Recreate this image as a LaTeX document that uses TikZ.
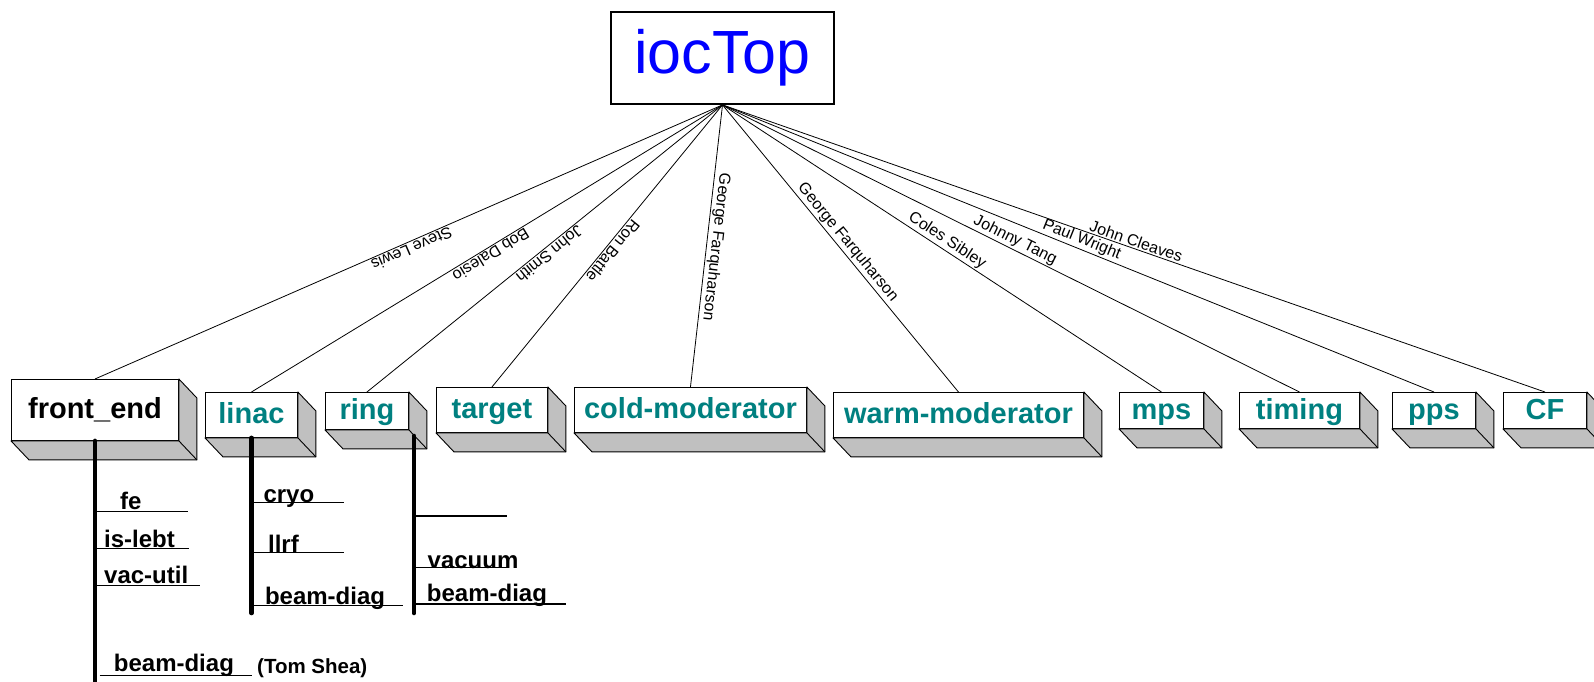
\documentclass[tikz,border=0pt]{standalone}
\usepackage{fontspec}
\setmainfont{Liberation Sans}

\definecolor{subteal}{RGB}{0,128,128}
\definecolor{crategray}{RGB}{192,192,192}

\tikzset{
  crate/.style={draw, fill=white, line width=0.9pt, anchor=north west, inner sep=0pt,
    text height=18pt, text depth=0pt, font=\fontsize{29}{32}\selectfont\bfseries},
  crateside/.style={draw, fill=crategray, line width=0.9pt, line join=round},
  owner/.style={font=\fontsize{16}{18}\selectfont, sloped, above, allow upside down, inner sep=1.5pt},
  ownerline/.style={line width=0.8pt},
  spine/.style={line width=4.6pt, line cap=round},
  leaf/.style={anchor=base west, inner sep=0pt, font=\fontsize{24}{26}\selectfont\bfseries},
  leafline/.style={line width=1.3pt},
}

\begin{document}
\begin{tikzpicture}[x=1pt,y=-1pt]
  \useasboundingbox (0,0) rectangle (1594,681);
  \node[draw, line width=1.8pt, minimum width=223pt, minimum height=92pt, inner sep=0pt,
    font=\fontsize{61}{66}\selectfont, text=blue] (top) at (722.5,58) {iocTop};
  % subsystem crates: name/x/y/width/height/colour/label
  \foreach \n/\x/\y/\w/\h/\c/\lbl in {
      frontend/11/379/167/61/black/front\_end,
      linac/205/392/92/45/subteal/linac,
      ring/325/392/83/37/subteal/ring,
      target/436/387/111/45/subteal/target,
      cold/574/387/232/45/subteal/cold-moderator,
      warm/833/392/250/45/subteal/warm-moderator,
      mps/1119/392/84/36/subteal/mps,
      timing/1239/392/120/36/subteal/timing,
      pps/1392/392/83/36/subteal/pps,
      cf/1503/392/83/36/subteal/CF}
    \node[crate, minimum width=\w pt, minimum height=\h pt, text=\c] (\n) at (\x,\y) {\lbl};
  \foreach \n in {frontend,linac,ring,target,cold,warm,mps,timing,pps,cf}{
    \filldraw[crateside] (\n.north east) -- ([shift={(18,19)}]\n.north east)
      -- ([shift={(18,19)}]\n.south east) -- ([shift={(18,19)}]\n.south west)
      -- (\n.south west) -- (\n.south east) -- cycle;
    \draw[crateside] (\n.south east) -- ([shift={(18,19)}]\n.south east);
  }
  % who looks after what
  \foreach \n/\who in {frontend/Steve Lewis, linac/Bob Dalesio, ring/John Smith,
      target/Ron Battle, cold/George Farquharson, warm/George Farquharson,
      mps/Coles Sibley, timing/Johnny Tang, pps/Paul Wright, cf/John Cleaves}
    \draw[ownerline] (top.south) -- (\n.north) node[owner, pos=0.5] {\who};
  % sub trees
  \coordinate (fespine) at (frontend.south);
  \coordinate (lispine) at (linac.south);
  \coordinate (rispine) at (414,436);
  \draw[spine] (fespine) -- (fespine |- 0,690);
  \draw[spine] (lispine) -- (lispine |- 0,613);
  \draw[spine] (rispine) -- (rispine |- 0,613);
  \foreach \sp/\lbl/\tx/\ty/\ly/\lx [count=\i] in {
      fespine/fe/120/509.5/511.7/187.5,
      fespine/is-lebt/104/547.4/548.7/188.7,
      fespine/vac-util/104/583.5/585.7/199.8,
      lispine/cryo/263.3/502.3/502.3/343.7,
      lispine/llrf/267.9/552.7/552.7/343.7,
      lispine/beam-diag/264.8/604/605.7/403,
      rispine/vacuum/427.5/568/567.3/507,
      rispine/beam-diag/426.7/601.7/604/565.6}{
    \draw[leafline] (\sp |- 0,\ly) -- (\lx,\ly);
    \node[leaf] (leaf\i) at (\tx,\ty) {\lbl};
  }
  \draw[leafline] (rispine |- 0,516) -- (507,516);
  \node[leaf] (febeam) at (113.7,671.7) {beam-diag};
  \draw[leafline] (99.5,675.7) -- (251.8,675.7);
  \node[leaf, font=\fontsize{20.5}{22}\selectfont\bfseries] (shea) at (257,673) {(Tom Shea)};
\end{tikzpicture}
\end{document}
